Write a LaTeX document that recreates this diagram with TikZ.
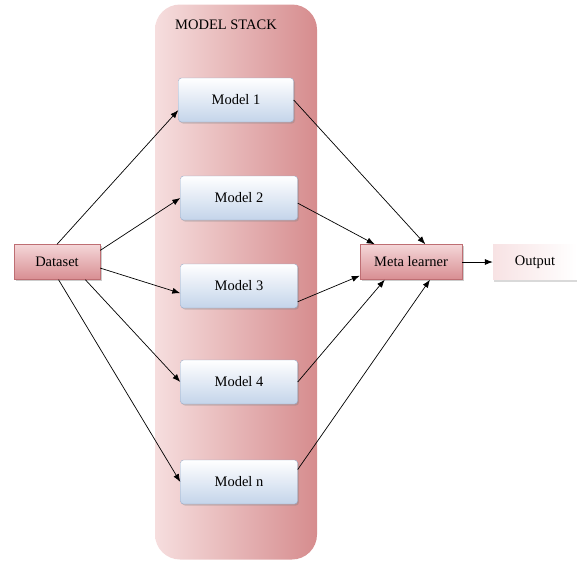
\documentclass[tikz,border=0pt]{standalone}
\usepackage{fontspec}
\setmainfont{Liberation Serif}
\usetikzlibrary{shadows, arrows.meta}

\definecolor{stackdark}{RGB}{214,140,142}
\definecolor{stacklight}{RGB}{246,222,222}
\definecolor{boxblue}{RGB}{196,212,234}
\definecolor{boxline}{RGB}{150,170,200}
\definecolor{pinkdark}{RGB}{216,142,146}
\definecolor{pinklight}{RGB}{244,214,216}
\definecolor{pinkline}{RGB}{190,110,115}

\begin{document}
\begin{tikzpicture}[
        x=1pt, y=-1pt,
        every node/.style={
            font=\fontsize{14.5}{16}\selectfont
        },
        modelbox/.style={
            draw=boxline,
            rounded corners=3pt,
            top color=white,
            bottom color=boxblue,
            minimum width=117pt,
            minimum height=44pt,
            drop shadow={shadow xshift=1.5pt, shadow yshift=-1.5pt, opacity=0.35}
        },
        pinkbox/.style={
            draw=pinkline,
            top color=pinklight,
            bottom color=pinkdark,
            minimum width=86pt,
            minimum height=35pt,
            drop shadow={shadow xshift=1.5pt, shadow yshift=-1.5pt, opacity=0.4}
        },
        link/.style={-{Latex[length=8pt,width=6pt]}, line width=0.7pt, black}
    ]

    \useasboundingbox (0,0) rectangle (577,562);

    % Pila de modelos
    \node[draw=none, rounded corners=25pt, left color=stacklight, right color=stackdark,
          minimum width=162pt, minimum height=555pt] (stack) at (236,282) {};
    \node (title) at (226,25) {MODEL STACK};

    % Nodos
    \node[pinkbox] (dataset) at (57,262) {Dataset};
    \node[modelbox, minimum width=115pt] (model1) at (236,100) {Model 1};
    \node[modelbox] (model2) at (239,198) {Model 2};
    \node[modelbox] (model3) at (239,286) {Model 3};
    \node[modelbox] (model4) at (239,382) {Model 4};
    \node[modelbox] (modeln) at (239,482) {Model n};
    \node[pinkbox, minimum width=102pt] (meta) at (411,262) {Meta learner};
    \node[draw=none, left color=pinklight!70, right color=white, minimum width=84pt,
          minimum height=35pt,
          drop shadow={shadow xshift=1pt, shadow yshift=-2pt, opacity=0.3}] (output) at (535,262) {Output};

    % Entradas
    \draw[link] (dataset.north) -- (model1.190);
    \draw[link] (dataset.15) -- (model2.west);
    \draw[link] (dataset.-8) -- (model3.187);
    \draw[link] (dataset.-32) -- (model4.west);
    \draw[link] (dataset.-85) -- (modeln.west);

    % Salidas
    \draw[link] (model1.east) -- (meta.51);
    \draw[link] (model2.-5) -- (meta.154);
    \draw[link] (model3.-15) -- (meta.195);
    \draw[link] (model4.east) -- (meta.214);
    \draw[link] (modeln.12) -- (meta.-43);
    \draw[link] (meta.east) -- (output.west);

    \end{tikzpicture}
\end{document}
